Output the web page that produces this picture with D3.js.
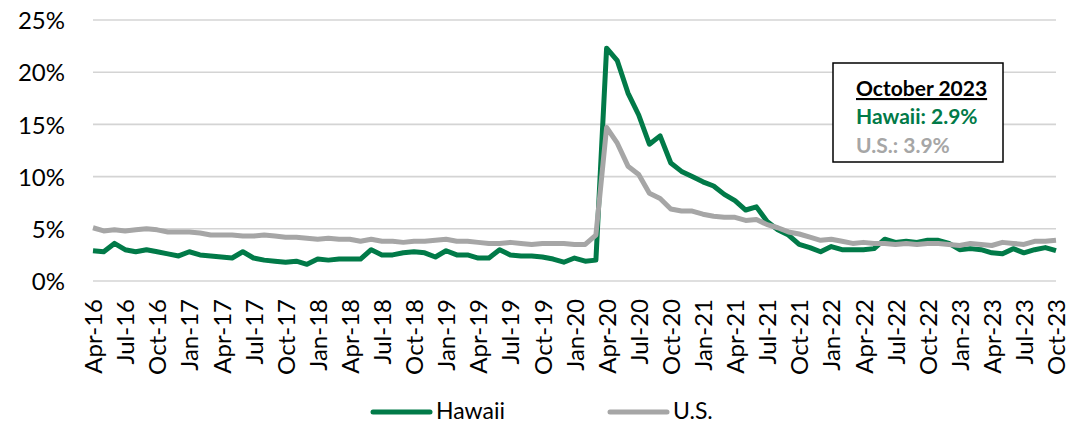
<!DOCTYPE html>
<html>
<head>
<meta charset="utf-8">
<script src="https://cdn.jsdelivr.net/npm/d3@7"></script>
<style>
  body { margin: 0; background: #fff; }
  svg { display: block; font-family: Lato, "Noto Sans", sans-serif; }
</style>
</head>
<body>
<svg id="chart" width="1079" height="425"></svg>
<script>
// monthly unemployment rate, Apr-16 .. Oct-23
const months = d3.timeMonth.range(new Date(2016, 3, 1), new Date(2023, 10, 1));
const fmt = d3.timeFormat('%b-%y');
const categories = months.map(fmt);

const hawaii = [
  2.9, 2.8, 3.6, 3.0, 2.8, 3.0, 2.8, 2.6, 2.4,
  2.8, 2.5, 2.4, 2.3, 2.2, 2.8, 2.2, 2.0, 1.9, 1.8, 1.9, 1.6,
  2.1, 2.0, 2.1, 2.1, 2.1, 3.0, 2.5, 2.5, 2.7, 2.8, 2.7, 2.3,
  2.9, 2.5, 2.5, 2.2, 2.2, 3.0, 2.5, 2.4, 2.4, 2.3, 2.1, 1.8,
  2.2, 1.9, 2.0, 22.3, 21.1, 18.0, 15.9, 13.1, 13.9, 11.3, 10.5, 10.0,
  9.5, 9.1, 8.3, 7.7, 6.8, 7.1, 5.7, 4.9, 4.4, 3.5, 3.2, 2.8,
  3.3, 3.0, 3.0, 3.0, 3.1, 4.0, 3.7, 3.8, 3.7, 3.9, 3.9, 3.6,
  3.0, 3.1, 3.0, 2.7, 2.6, 3.1, 2.7, 3.0, 3.2, 2.9
];
const us = [
  5.1, 4.8, 4.9, 4.8, 4.9, 5.0, 4.9, 4.7, 4.7,
  4.7, 4.6, 4.4, 4.4, 4.4, 4.3, 4.3, 4.4, 4.3, 4.2, 4.2, 4.1,
  4.0, 4.1, 4.0, 4.0, 3.8, 4.0, 3.8, 3.8, 3.7, 3.8, 3.8, 3.9,
  4.0, 3.8, 3.8, 3.7, 3.6, 3.6, 3.7, 3.6, 3.5, 3.6, 3.6, 3.6,
  3.5, 3.5, 4.4, 14.7, 13.2, 11.0, 10.2, 8.4, 7.9, 6.9, 6.7, 6.7,
  6.4, 6.2, 6.1, 6.1, 5.8, 5.9, 5.4, 5.1, 4.7, 4.5, 4.2, 3.9,
  4.0, 3.8, 3.6, 3.7, 3.6, 3.6, 3.5, 3.6, 3.5, 3.6, 3.6, 3.5,
  3.4, 3.6, 3.5, 3.4, 3.7, 3.6, 3.5, 3.8, 3.8, 3.9
];
const yTicks = [0, 5, 10, 15, 20, 25];
const seriesNames = ['Hawaii', 'U.S.'];
const noteTitle = 'October 2023';
const noteLines = ['Hawaii: 2.9%', 'U.S.: 3.9%'];

const green = '#017A48',
      gray = '#A6A6A6';

const svg = d3.select('#chart');

const x = d3.scalePoint().domain(categories).range([93, 1056]);
const y = d3.scaleLinear().domain([0, 25]).range([281, 20]);

// gridlines
svg.append('g')
  .selectAll('line')
  .data(yTicks)
  .join('line')
    .attr('x1', 93).attr('x2', 1056)
    .attr('y1', d => y(d)).attr('y2', d => y(d))
    .attr('stroke', '#D4D4D4')
    .attr('stroke-width', 1.6);

// y axis labels
const yAxis = svg.append('g')
  .attr('transform', 'translate(72,0)')
  .call(d3.axisLeft(y).tickValues(yTicks).tickFormat(d => d + '%').tickSize(0).tickPadding(7));
yAxis.select('.domain').remove();
yAxis.selectAll('text')
  .attr('font-family', 'Lato, sans-serif')
  .attr('font-size', 24)
  .attr('fill', '#000')
  .attr('dy', '0.36em');

// x axis labels, every 3rd month
const xAxis = svg.append('g')
  .attr('transform', 'translate(0,290)')
  .call(d3.axisBottom(x).tickValues(categories.filter((d, i) => i % 3 === 0)).tickSize(0).tickPadding(0));
xAxis.select('.domain').remove();
xAxis.selectAll('text')
  .attr('font-family', 'Lato, sans-serif')
  .attr('font-size', 24)
  .attr('fill', '#000')
  .attr('text-anchor', 'end')
  .attr('transform', 'rotate(-90)')
  .attr('x', -9)
  .attr('y', 0)
  .attr('dy', '0.36em');

// lines
const line = d3.line()
  .x((d, i) => x(categories[i]))
  .y(d => y(d));

[[hawaii, green], [us, gray]].forEach(([vals, col]) => {
  svg.append('path')
    .datum(vals)
    .attr('fill', 'none')
    .attr('stroke', col)
    .attr('stroke-width', 5)
    .attr('stroke-linejoin', 'round')
    .attr('d', line);
});

// note box
const note = svg.append('g');
note.append('rect')
  .attr('x', 833).attr('y', 63)
  .attr('width', 170).attr('height', 99)
  .attr('fill', '#fff')
  .attr('stroke', '#000')
  .attr('stroke-width', 1.5);
note.append('text')
  .attr('x', 856).attr('y', 96)
  .attr('font-size', 21).attr('font-weight', 'bold')
  .attr('text-decoration', 'underline')
  .attr('fill', '#000')
  .text(noteTitle);
note.selectAll('.nl')
  .data(noteLines)
  .join('text')
    .attr('class', 'nl')
    .attr('x', 856).attr('y', (d, i) => 124 + i * 29)
    .attr('font-size', 21).attr('font-weight', 'bold')
    .attr('fill', (d, i) => i === 0 ? green : gray)
    .text(d => d);

// legend
const legend = svg.append('g');
const legX = [373, 610];
seriesNames.forEach((name, i) => {
  legend.append('line')
    .attr('x1', legX[i]).attr('x2', legX[i] + 57)
    .attr('y1', 412).attr('y2', 412)
    .attr('stroke', i === 0 ? green : gray)
    .attr('stroke-width', 5)
    .attr('stroke-linecap', 'round');
  legend.append('text')
    .attr('x', legX[i] + 63).attr('y', 419)
    .attr('font-size', 23)
    .attr('fill', '#000')
    .text(name);
});
</script>
</body>
</html>
